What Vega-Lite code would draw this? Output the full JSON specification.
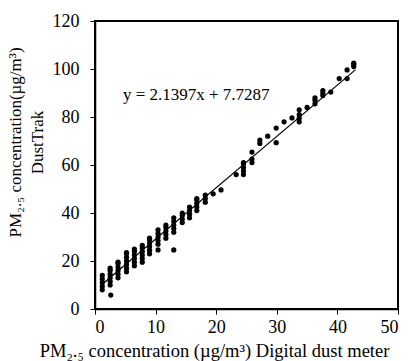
{
  "$schema": "https://vega.github.io/schema/vega-lite/v6.json",
  "width": 303,
  "height": 288,
  "autosize": "none",
  "padding": {"left": 95, "top": 21, "right": 10, "bottom": 52},
  "background": "white",
  "config": {
    "view": {"stroke": "black", "strokeWidth": 2},
    "font": "Liberation Serif",
    "axis": {
      "grid": false,
      "domainColor": "black",
      "domainWidth": 1.5,
      "tickColor": "black",
      "tickSize": 5,
      "labelFont": "Liberation Serif",
      "labelFontSize": 18,
      "labelColor": "black",
      "titleFont": "Liberation Serif",
      "titleFontSize": 17,
      "titleFontWeight": "normal",
      "titleColor": "black"
    }
  },
  "datasets": {
    "pts": [
      {"x": 1.2, "y": 8}, {"x": 1.2, "y": 9.5}, {"x": 1.2, "y": 11}, {"x": 1.2, "y": 12.5}, {"x": 1.2, "y": 14},
      {"x": 2.5, "y": 10}, {"x": 2.5, "y": 11.5}, {"x": 2.5, "y": 13}, {"x": 2.5, "y": 14.5}, {"x": 2.5, "y": 16}, {"x": 2.5, "y": 17},
      {"x": 2.6, "y": 5.8},
      {"x": 3.8, "y": 13}, {"x": 3.8, "y": 14.5}, {"x": 3.8, "y": 16}, {"x": 3.8, "y": 17.5}, {"x": 3.8, "y": 19}, {"x": 3.8, "y": 19.5},
      {"x": 5.2, "y": 15.5}, {"x": 5.2, "y": 17}, {"x": 5.2, "y": 18.5}, {"x": 5.2, "y": 20}, {"x": 5.2, "y": 21.5}, {"x": 5.2, "y": 23}, {"x": 5.2, "y": 23.5},
      {"x": 6.5, "y": 18}, {"x": 6.5, "y": 19.5}, {"x": 6.5, "y": 21}, {"x": 6.5, "y": 22.5}, {"x": 6.5, "y": 24}, {"x": 6.5, "y": 25},
      {"x": 7.8, "y": 19.5}, {"x": 7.8, "y": 21}, {"x": 7.8, "y": 22.5}, {"x": 7.8, "y": 24}, {"x": 7.8, "y": 25.5}, {"x": 7.8, "y": 26.5},
      {"x": 9.0, "y": 23}, {"x": 9.0, "y": 24.5}, {"x": 9.0, "y": 26}, {"x": 9.0, "y": 27.5}, {"x": 9.0, "y": 29}, {"x": 9.0, "y": 29.5},
      {"x": 10.4, "y": 27}, {"x": 10.4, "y": 28.5}, {"x": 10.4, "y": 30}, {"x": 10.4, "y": 31.5}, {"x": 10.4, "y": 33},
      {"x": 10.4, "y": 24.6},
      {"x": 11.7, "y": 29.5}, {"x": 11.7, "y": 31}, {"x": 11.7, "y": 32.5}, {"x": 11.7, "y": 34}, {"x": 11.7, "y": 35},
      {"x": 13.0, "y": 32}, {"x": 13.0, "y": 33.5}, {"x": 13.0, "y": 35}, {"x": 13.0, "y": 36.5}, {"x": 13.0, "y": 38},
      {"x": 13.0, "y": 24.6},
      {"x": 14.4, "y": 36}, {"x": 14.4, "y": 37.5}, {"x": 14.4, "y": 39}, {"x": 14.4, "y": 40},
      {"x": 15.6, "y": 38}, {"x": 15.6, "y": 39.5}, {"x": 15.6, "y": 41}, {"x": 15.6, "y": 42.5},
      {"x": 16.8, "y": 41}, {"x": 16.8, "y": 42.5}, {"x": 16.8, "y": 44}, {"x": 16.8, "y": 45.5}, {"x": 16.8, "y": 46},
      {"x": 18.2, "y": 44.5}, {"x": 18.2, "y": 46}, {"x": 18.2, "y": 47.5},
      {"x": 19.5, "y": 48},
      {"x": 20.8, "y": 49.6},
      {"x": 23.3, "y": 56},
      {"x": 24.5, "y": 56}, {"x": 24.5, "y": 57.5}, {"x": 24.5, "y": 59}, {"x": 24.5, "y": 60.5}, {"x": 24.5, "y": 61},
      {"x": 25.9, "y": 61}, {"x": 25.9, "y": 62.5}, {"x": 25.9, "y": 65.4},
      {"x": 27.2, "y": 69}, {"x": 27.2, "y": 70.4},
      {"x": 28.5, "y": 72},
      {"x": 29.9, "y": 69.3}, {"x": 29.9, "y": 75.4},
      {"x": 31.2, "y": 78},
      {"x": 32.5, "y": 79.6},
      {"x": 33.7, "y": 78}, {"x": 33.7, "y": 79.5}, {"x": 33.7, "y": 81}, {"x": 33.7, "y": 83},
      {"x": 35.0, "y": 84},
      {"x": 36.3, "y": 85.5}, {"x": 36.3, "y": 87}, {"x": 36.3, "y": 88},
      {"x": 37.6, "y": 89}, {"x": 37.6, "y": 90}, {"x": 37.6, "y": 91},
      {"x": 38.9, "y": 90.4},
      {"x": 40.3, "y": 96},
      {"x": 41.6, "y": 96}, {"x": 41.6, "y": 99.6},
      {"x": 42.7, "y": 101}, {"x": 42.7, "y": 102}, {"x": 42.7, "y": 102.5}
    ],
    "fit": [
      {"x": 1.0, "y": 9.87},
      {"x": 43.0, "y": 99.74}
    ]
  },
  "layer": [
    {
      "data": {"name": "fit"},
      "mark": {"type": "line", "color": "black", "strokeWidth": 1.2},
      "encoding": {
        "x": {"field": "x", "type": "quantitative",
          "scale": {"domain": [0, 50], "nice": false, "zero": false},
          "axis": {
            "values": [0, 10, 20, 30, 40, 50],
            "title": "PM₂.₅ concentration (µg/m³) Digital dust meter",
            "titleFontSize": 18.5,
            "labelPadding": 4,
            "titleX": 119,
            "titlePadding": 5
          }
        },
        "y": {"field": "y", "type": "quantitative",
          "scale": {"domain": [0, 120], "nice": false, "zero": false},
          "axis": {
            "values": [0, 20, 40, 60, 80, 100, 120],
            "title": ["PM₂.₅ concentration(µg/m³)", "DustTrak"],
            "labelPadding": 11,
            "titleLineHeight": 22,
            "titleY": 121,
            "titlePadding": 6
          }
        }
      }
    },
    {
      "data": {"name": "pts"},
      "mark": {"type": "circle", "color": "black", "opacity": 1, "size": 27},
      "encoding": {
        "x": {"field": "x", "type": "quantitative"},
        "y": {"field": "y", "type": "quantitative"}
      }
    },
    {
      "data": {"values": [{"label": "y = 2.1397x + 7.7287"}]},
      "mark": {"type": "text", "align": "left", "baseline": "middle", "fontSize": 17, "font": "Liberation Serif", "color": "black"},
      "encoding": {
        "x": {"datum": 4.6, "type": "quantitative"},
        "y": {"datum": 89.2, "type": "quantitative"},
        "text": {"field": "label"}
      }
    }
  ]
}
